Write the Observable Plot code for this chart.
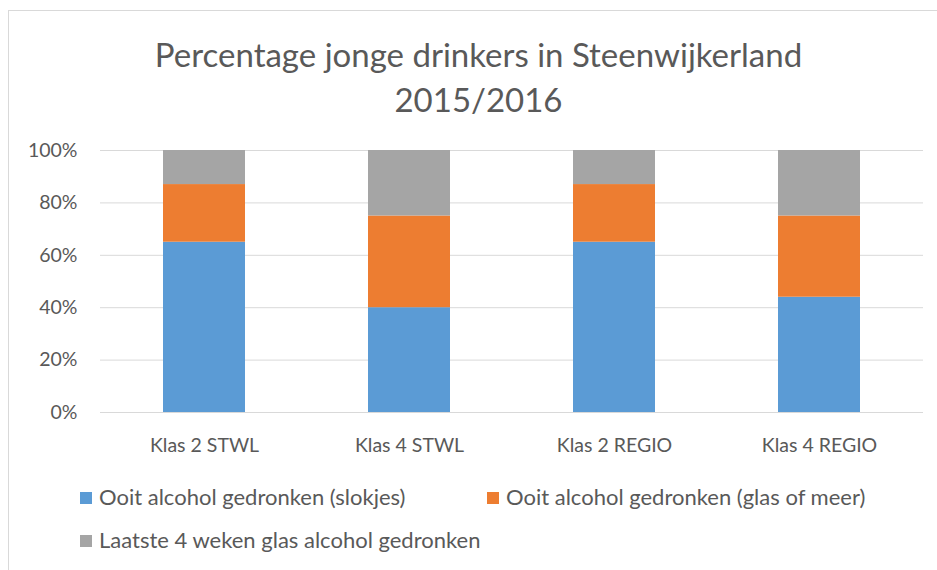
<!DOCTYPE html>
<html>
<head>
<meta charset="utf-8">
<script src="https://cdn.jsdelivr.net/npm/d3@7"></script>
<script src="https://cdn.jsdelivr.net/npm/@observablehq/plot@0.6"></script>
<style>
  html, body { margin: 0; padding: 0; background: #fff; }
  #wrap { position: relative; width: 937px; height: 570px; overflow: hidden; font-family: Lato, "Open Sans", sans-serif; color: #595959; }
  .bt { position: absolute; left: 8px; top: 10px; right: 0; height: 1px; background: #d9d9d9; }
  .bl { position: absolute; left: 8px; top: 10px; bottom: 0; width: 1px; background: #d9d9d9; }
  #title { position: absolute; left: 0; width: 957px; top: 32px; text-align: center; font-size: 33px; line-height: 45px; }
  #chart { position: absolute; left: 0; top: 130px; }
  .leg { position: absolute; font-size: 22px; line-height: 26px; white-space: nowrap; }
  .sw { display: inline-block; width: 12px; height: 12px; margin-right: 7px; vertical-align: 1px; }
</style>
</head>
<body>
<div id="wrap">
  <div class="bt"></div>
  <div class="bl"></div>
  <div id="title"></div>
  <div id="chart"></div>
  <div id="legend"></div>
</div>
<script>
const titleLines = ["Percentage jonge drinkers in Steenwijkerland", "2015/2016"];
const categories = ["Klas 2 STWL", "Klas 4 STWL", "Klas 2 REGIO", "Klas 4 REGIO"];
const seriesNames = [
  "Ooit alcohol gedronken (slokjes)",
  "Ooit alcohol gedronken (glas of meer)",
  "Laatste 4 weken glas alcohol gedronken"
];
const slokjes = [65, 40, 65, 44];
const glasOfMeer = [22, 35, 22, 31];
const laatste4Weken = [13, 25, 13, 25];
const seriesColors = ["#5b9bd5", "#ed7d31", "#a5a5a5"];
const yTicks = [0, 20, 40, 60, 80, 100];

document.getElementById("title").innerHTML = titleLines.join("<br>");

const seriesValues = [slokjes, glasOfMeer, laatste4Weken];
const rows = [];
seriesNames.forEach((s, si) => {
  categories.forEach((c, ci) => rows.push({category: c, series: s, value: seriesValues[si][ci]}));
});

const plot = Plot.plot({
  width: 937,
  height: 340,
  marginLeft: 100,
  marginRight: 14,
  marginTop: 20,
  marginBottom: 58,
  style: {fontFamily: "Lato, 'Open Sans', sans-serif", fontSize: "19.5px", color: "#595959", background: "transparent"},
  x: {domain: categories, paddingInner: 0.6, paddingOuter: 0.3, label: null},
  y: {domain: [0, 100], label: null},
  color: {domain: seriesNames, range: seriesColors},
  marks: [
    Plot.gridY(yTicks, {stroke: "#d9d9d9", strokeOpacity: 1, strokeWidth: 1}),
    Plot.barY(rows, {x: "category", y: "value", fill: "series", order: seriesNames}),
    Plot.axisY(yTicks, {tickSize: 0, tickPadding: 23, tickFormat: d => d + "%", fill: "#595959", fontSize: 19.5}),
    Plot.axisX({tickSize: 0, tickPadding: 26, fill: "#595959", fontSize: 19.5, label: null})
  ]
});
document.getElementById("chart").appendChild(plot);

const legendPos = [
  {left: 80, top: 484},
  {left: 487, top: 484},
  {left: 80, top: 527}
];
const legend = document.getElementById("legend");
seriesNames.forEach((s, i) => {
  const d = document.createElement("div");
  d.className = "leg";
  d.style.left = legendPos[i].left + "px";
  d.style.top = legendPos[i].top + "px";
  d.innerHTML = `<span class="sw" style="background:${seriesColors[i]}"></span>${s}`;
  legend.appendChild(d);
});
</script>
</body>
</html>
